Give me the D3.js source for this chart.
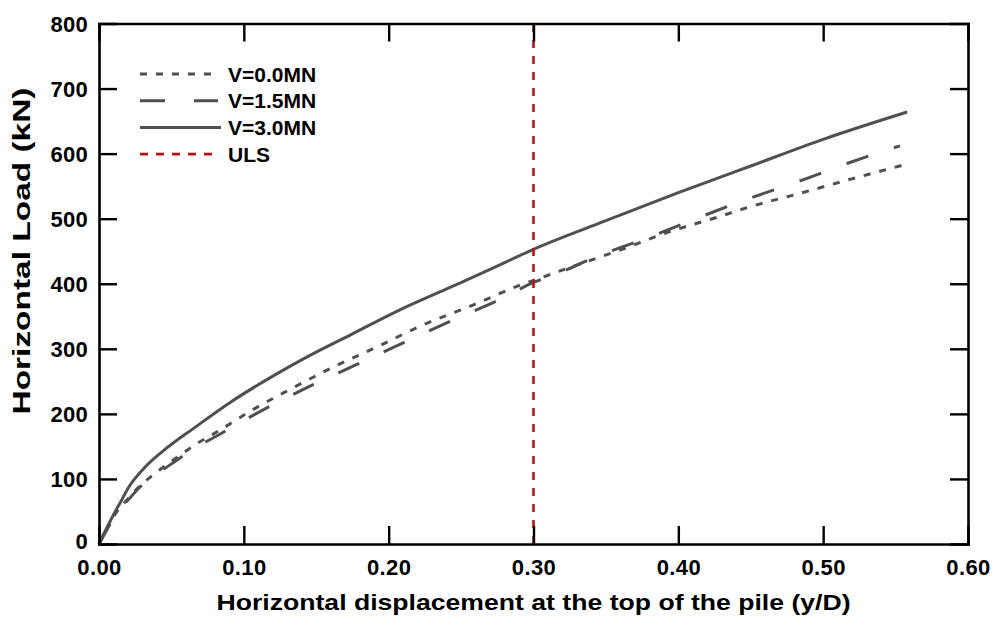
<!DOCTYPE html>
<html>
<head>
<meta charset="utf-8">
<script src="https://cdn.jsdelivr.net/npm/d3@7"></script>
<style>
  html, body { margin: 0; padding: 0; background: #fff; }
  svg { display: block; font-family: "Liberation Sans", Arial, sans-serif; }
</style>
</head>
<body>
<svg id="chart" width="992" height="617"></svg>
<script>
// ---- data ----
const xTicks = [0, 0.1, 0.2, 0.3, 0.4, 0.5, 0.6];
const yTicks = [0, 100, 200, 300, 400, 500, 600, 700, 800];

const seriesNames = ["V=0.0MN", "V=1.5MN", "V=3.0MN", "ULS"];

const disp00 = [0, 0.005, 0.0115, 0.0207, 0.0276, 0.0379, 0.0506, 0.0667, 0.0828, 0.1058, 0.128, 0.16, 0.192, 0.224, 0.259, 0.291, 0.30, 0.325, 0.36, 0.394, 0.428, 0.449, 0.484, 0.521, 0.558];
const load00 = [0, 21, 47, 71, 88, 107, 128, 153, 174, 206, 233, 270, 303, 337, 368, 398, 405, 425, 452, 480, 503, 518, 539, 562, 584];

const disp15 = [0, 0.005, 0.0115, 0.0207, 0.0276, 0.0379, 0.0506, 0.0667, 0.0828, 0.10, 0.114, 0.146, 0.178, 0.21, 0.243, 0.277, 0.30, 0.317, 0.346, 0.378, 0.41, 0.445, 0.484, 0.518, 0.553];
const load15 = [0, 20, 46, 69, 86, 104, 124, 148, 168, 190, 207, 243, 276, 309, 343, 376, 402, 416, 444, 470, 498, 528, 558, 586, 612];

const disp30 = [0, 0.005, 0.01, 0.015, 0.0207, 0.0322, 0.0437, 0.0667, 0.0908, 0.12, 0.144, 0.175, 0.206, 0.24, 0.27, 0.30, 0.35, 0.40, 0.45, 0.50, 0.558];
const load30 = [0, 23, 45, 65, 88, 119, 142, 180, 218, 258, 288, 323, 358, 392, 422, 453, 497, 540, 581, 622, 664];

const ulsDisp = 0.30;

// ---- layout ----
const svg = d3.select("#chart");
const x = d3.scaleLinear().domain([0, 0.6]).range([99, 968]);
const y = d3.scaleLinear().domain([0, 800]).range([544, 23.5]);

const grey = "#505050";
const red = "#b31616";

const line = d3.line().x(d => x(d[0])).y(d => y(d[1])).curve(d3.curveMonotoneX);
const zip = (a, b) => a.map((v, i) => [v, b[i]]);

const series = [
  { name: seriesNames[0], data: zip(disp00, load00), dash: "7,9", color: grey },
  { name: seriesNames[1], data: zip(disp15, load15), dash: "23,27", color: grey },
  { name: seriesNames[2], data: zip(disp30, load30), dash: null, color: grey }
];

// curves
series.forEach(s => {
  svg.append("path")
    .datum(s.data)
    .attr("d", line)
    .attr("fill", "none")
    .attr("stroke", s.color)
    .attr("stroke-width", 3)
    .attr("stroke-dasharray", s.dash)
    .attr("stroke-linecap", "butt");
});

// ULS line
svg.append("line")
  .attr("x1", x(ulsDisp)).attr("x2", x(ulsDisp))
  .attr("y1", y(0)).attr("y2", y(800))
  .attr("stroke", red).attr("stroke-width", 2.6)
  .attr("stroke-dasharray", "8,8");

// axes
const tickLen = 18;
const fmtX = d3.format(".2f");

const gB = svg.append("g").attr("transform", `translate(0,${y(0)})`)
  .call(d3.axisBottom(x).tickValues(xTicks).tickSize(-tickLen).tickPadding(16).tickFormat(fmtX));
const gT = svg.append("g").attr("transform", `translate(0,${y(800)})`)
  .call(d3.axisTop(x).tickValues(xTicks).tickSize(-tickLen).tickFormat(""));
const gL = svg.append("g").attr("transform", `translate(${x(0)},0)`)
  .call(d3.axisLeft(y).tickValues(yTicks).tickSize(-tickLen).tickPadding(11));
const gR = svg.append("g").attr("transform", `translate(${x(0.6)},0)`)
  .call(d3.axisRight(y).tickValues(yTicks).tickSize(-tickLen).tickFormat(""));

[gB, gT, gL, gR].forEach(g => {
  g.select(".domain").attr("stroke", "#000").attr("stroke-width", 2.6);
  g.selectAll(".tick line").attr("stroke", "#000").attr("stroke-width", 2.4);
  g.selectAll(".tick text")
    .attr("fill", "#000")
    .style("font-size", "22px")
    .style("font-weight", "bold")
    .style("font-family", "'Liberation Sans', Arial, sans-serif");
});
// remove end ticks that coincide with the frame
gB.selectAll(".tick line").filter(d => d === 0 || d === 0.6).remove();
gT.selectAll(".tick line").filter(d => d === 0 || d === 0.6).remove();
gL.selectAll(".tick line").filter(d => d === 0 || d === 800).remove();
gR.selectAll(".tick line").filter(d => d === 0 || d === 800).remove();
gL.selectAll(".tick text").attr("dy", d => d === 0 ? "0.22em" : "0.35em").style("letter-spacing", "0.3px");
gB.selectAll(".tick text").attr("dy", "0.66em").style("letter-spacing", "0.4px");

// axis titles
svg.append("text")
  .attr("x", (x(0) + x(0.6)) / 2)
  .attr("y", 610)
  .attr("text-anchor", "middle")
  .attr("textLength", 634)
  .attr("lengthAdjust", "spacingAndGlyphs")
  .style("font-size", "22px")
  .style("font-weight", "bold")
  .text("Horizontal displacement at the top of the pile (y/D)");

svg.append("text")
  .attr("transform", "translate(30,251) rotate(-90)")
  .attr("text-anchor", "middle")
  .attr("textLength", 327)
  .attr("lengthAdjust", "spacingAndGlyphs")
  .style("font-size", "24px")
  .style("font-weight", "bold")
  .text("Horizontal Load (kN)");

// legend
const legendItems = [
  { name: seriesNames[0], dash: "7,9", color: grey, w: 3 },
  { name: seriesNames[1], dash: "25,29", color: grey, w: 3 },
  { name: seriesNames[2], dash: null, color: grey, w: 3 },
  { name: seriesNames[3], dash: "8,8", color: red, w: 2.6 }
];
const lg = svg.append("g");
legendItems.forEach((it, i) => {
  const ly = 74 + i * 26.7;
  lg.append("line")
    .attr("x1", 140).attr("x2", it.dash ? 218 : 221)
    .attr("y1", ly).attr("y2", ly)
    .attr("stroke", it.color).attr("stroke-width", it.w)
    .attr("stroke-dasharray", it.dash);
  lg.append("text")
    .attr("x", 228).attr("y", ly + 7.5)
    .style("font-size", "21px")
    .style("font-weight", "bold")
    .text(it.name);
});
</script>
</body>
</html>
